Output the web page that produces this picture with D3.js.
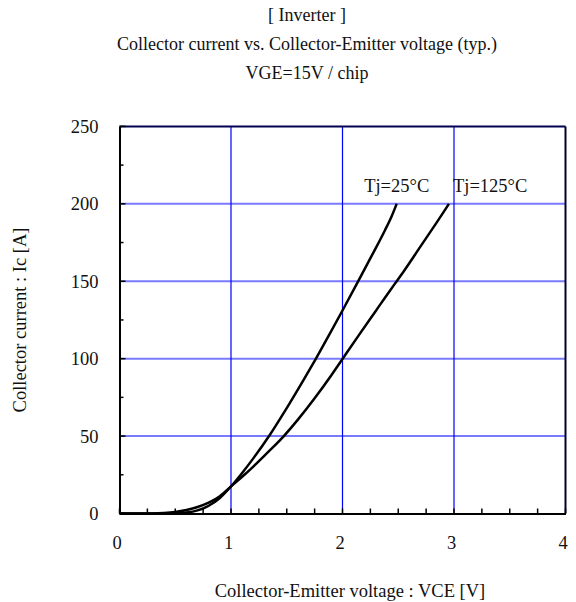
<!DOCTYPE html>
<html>
<head>
<meta charset="utf-8">
<script src="https://cdn.jsdelivr.net/npm/d3@7"></script>
<style>
html,body{margin:0;padding:0;background:#fff;}
svg{display:block;}
text{font-family:"Liberation Serif","Times New Roman",serif;fill:#111;}
</style>
</head>
<body>
<svg id="chart" width="576" height="602"></svg>
<script>
// ---- data ----
const titleLines = ["[ Inverter ]", "Collector current vs. Collector-Emitter voltage (typ.)", "VGE=15V / chip"];
const xTicks = [0, 1, 2, 3, 4];
const yTicks = [0, 50, 100, 150, 200, 250];
const seriesNames = ["Tj=25°C", "Tj=125°C"];
const vce25 = [0, 0.45, 0.5, 0.6, 0.7, 0.8, 0.9, 1.0, 1.1, 1.2, 1.343, 1.5, 1.65, 1.762, 1.9, 2.0, 2.14, 2.26, 2.38, 2.44, 2.486];
const ic25  = [0, 0, 0.1, 0.6, 2.0, 5.0, 10.0, 17.5, 26.2, 35.6, 50.2, 68.1, 86.1, 100.1, 117.9, 131.1, 149.9, 166.2, 182.8, 191.8, 200];
const vce125 = [0, 0.3, 0.4, 0.5, 0.6, 0.7, 0.8, 0.9, 1.0, 1.1, 1.2, 1.35, 1.47, 1.6, 1.75, 1.9, 2.0, 2.15, 2.3, 2.43, 2.486, 2.55, 2.7, 2.85, 2.955];
const ic125  = [0, 0, 0.3, 1.0, 2.3, 4.2, 7.0, 11.2, 17.5, 23.7, 30.3, 40.9, 49.7, 60.6, 74.4, 89.3, 99.8, 115.5, 131, 144.4, 150, 156.5, 172.5, 188.5, 200];
const xLabel = "Collector-Emitter voltage : VCE [V]";
const yLabel = "Collector current : Ic [A]";

// ---- layout ----
const svg = d3.select("#chart");
const L = 119.5, R = 565.5, T = 126.4, B = 513.5;
const x = d3.scaleLinear().domain([0, 4]).range([L, R]);
const y = d3.scaleLinear().domain([0, 250]).range([B, T]);
const FS = 18.5;

// titles
const titleY = [21, 50, 79];
titleLines.forEach((t, i) => {
  svg.append("text").attr("x", 307).attr("y", titleY[i])
    .attr("text-anchor", "middle").attr("font-size", 18).text(t);
});

// grid
const g = svg.append("g");
g.selectAll("line.hg").data(yTicks.filter(d => d > 0 && d < 250)).enter().append("line")
  .attr("x1", L).attr("x2", R).attr("y1", d => y(d)).attr("y2", d => y(d))
  .attr("stroke", "#7a7aff").attr("stroke-width", 2);
g.selectAll("line.vg").data(xTicks.filter(d => d > 0 && d < 4)).enter().append("line")
  .attr("x1", d => x(d)).attr("x2", d => x(d)).attr("y1", T).attr("y2", B)
  .attr("stroke", "#0000ff").attr("stroke-width", 1.2);

// frame
g.append("line").attr("x1", L).attr("x2", R).attr("y1", T).attr("y2", T).attr("stroke", "#000050").attr("stroke-width", 2);
g.append("line").attr("x1", R).attr("x2", R).attr("y1", T).attr("y2", B).attr("stroke", "#000030").attr("stroke-width", 2);

// axes
const yAxis = d3.axisLeft(y).tickValues(yTicks).tickFormat(d3.format("d")).tickSize(0).tickPadding(21);
const ya = svg.append("g").attr("transform", `translate(${L},0)`).call(yAxis);
ya.select(".domain").attr("stroke", "#000").attr("stroke-width", 2);
ya.selectAll("text").attr("font-size", FS).attr("font-family", "Liberation Serif").attr("fill", "#111");

const yMinor = d3.range(0, 251, 25);
svg.append("g").selectAll("line").data(yMinor).enter().append("line")
  .attr("x1", L).attr("x2", d => L + (d % 50 === 0 ? 6 : 4))
  .attr("y1", d => y(d)).attr("y2", d => y(d)).attr("stroke", "#000").attr("stroke-width", 1.5);

const xAxis = d3.axisBottom(x).tickValues(xTicks).tickFormat(d3.format("d")).tickSize(0).tickPadding(22);
const xa = svg.append("g").attr("transform", `translate(0,${B})`).call(xAxis);
xa.select(".domain").attr("stroke", "#000").attr("stroke-width", 2);
xa.selectAll("text").attr("font-size", FS).attr("font-family", "Liberation Serif").attr("fill", "#111").attr("dx", -3);

const xMinor = d3.range(0, 4.001, 0.25);
svg.append("g").selectAll("line").data(xMinor).enter().append("line")
  .attr("x1", d => x(d)).attr("x2", d => x(d))
  .attr("y1", B).attr("y2", B - 5).attr("stroke", "#000").attr("stroke-width", 1.5);

// axis titles
svg.append("text").attr("x", 350).attr("y", 597).attr("text-anchor", "middle").attr("font-size", FS).text(xLabel);
svg.append("text").attr("transform", "translate(26,320) rotate(-90)").attr("text-anchor", "middle").attr("font-size", FS).text(yLabel);

// curves
const line = d3.line().x(d => x(d[0])).y(d => y(d[1])).curve(d3.curveMonotoneX);
const s25 = vce25.map((v, i) => [v, ic25[i]]);
const s125 = vce125.map((v, i) => [v, ic125[i]]);
[s25, s125].forEach(s => {
  svg.append("path").datum(s).attr("d", line).attr("fill", "none")
    .attr("stroke", "#000").attr("stroke-width", 2.5).attr("stroke-linejoin", "round");
});

// curve labels
svg.append("text").attr("x", x(2.486)).attr("y", 192).attr("text-anchor", "middle").attr("font-size", FS).text(seriesNames[0]);
svg.append("text").attr("x", 453).attr("y", 192).attr("text-anchor", "start").attr("font-size", FS).text(seriesNames[1]);
</script>
</body>
</html>
